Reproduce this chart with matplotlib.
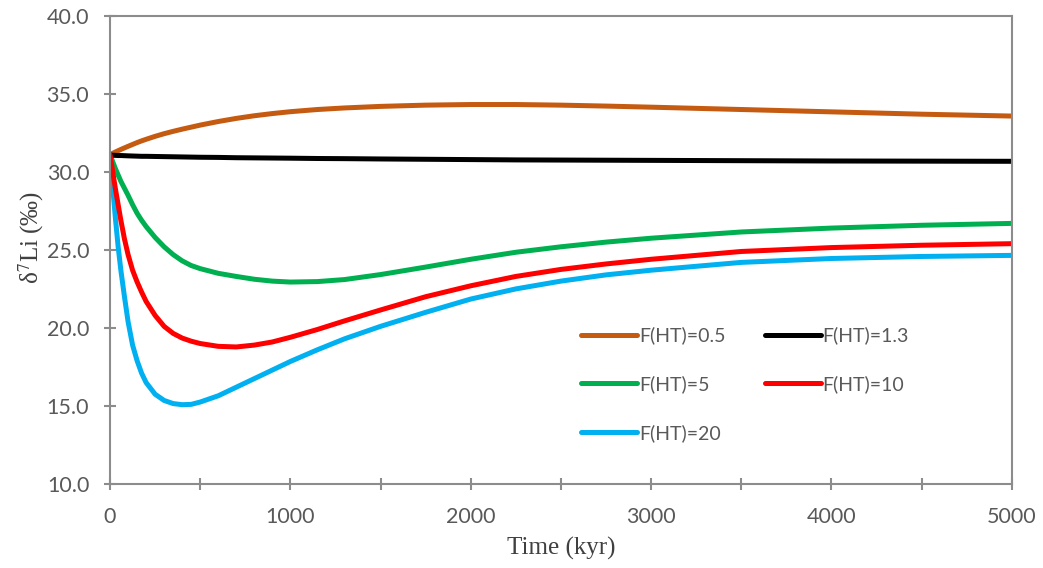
import matplotlib
matplotlib.use('Agg')
import matplotlib.pyplot as plt
from matplotlib.ticker import MultipleLocator, FormatStrFormatter

# tempo (kyr) e d7Li (permil) para cada fluxo hidrotermal F(HT)
tempo = [0, 15, 30, 45, 60, 80, 100, 125, 150, 175, 200, 250, 300, 350, 400, 450, 500,
         600, 700, 800, 900, 1000, 1150, 1300, 1500, 1750, 2000, 2250, 2500, 2750, 3000,
         3500, 4000, 4500, 5000]
f_05 = [31.1, 31.19, 31.28, 31.36, 31.44, 31.54, 31.64, 31.76, 31.88, 31.99, 32.09, 32.28,
        32.45, 32.6, 32.74, 32.87, 33.0, 33.23, 33.43, 33.6, 33.74, 33.86, 34.0, 34.1,
        34.2, 34.28, 34.32, 34.32, 34.28, 34.22, 34.15, 34.0, 33.85, 33.7, 33.58]
f_13 = [31.08, 31.07, 31.06, 31.05, 31.05, 31.04, 31.03, 31.02, 31.01, 31.0, 31.0, 30.99,
        30.98, 30.97, 30.96, 30.95, 30.94, 30.93, 30.91, 30.9, 30.89, 30.88, 30.86, 30.85,
        30.83, 30.81, 30.79, 30.77, 30.76, 30.75, 30.74, 30.72, 30.7, 30.69, 30.68]
f_5 = [31.1, 30.65, 30.2, 29.8, 29.4, 28.95, 28.5, 27.9, 27.35, 26.9, 26.5, 25.8,
       25.2, 24.7, 24.3, 24.0, 23.8, 23.5, 23.3, 23.12, 23.0, 22.94, 22.97, 23.1,
       23.42, 23.9, 24.4, 24.85, 25.2, 25.5, 25.75, 26.15, 26.4, 26.58, 26.7]
f_10 = [31.1, 30.0, 28.9, 27.9, 26.9, 25.7, 24.7, 23.7, 22.95, 22.3, 21.7, 20.8,
        20.1, 19.65, 19.35, 19.15, 19.0, 18.82, 18.78, 18.9, 19.1, 19.4, 19.9, 20.45,
        21.15, 22.0, 22.7, 23.3, 23.75, 24.1, 24.4, 24.9, 25.15, 25.3, 25.4]
f_20 = [31.1, 29.0, 27.0, 25.2, 23.7, 22.0, 20.4, 18.9, 17.9, 17.1, 16.5, 15.75,
        15.35, 15.15, 15.08, 15.1, 15.25, 15.65, 16.2, 16.75, 17.3, 17.85, 18.6, 19.3,
        20.1, 21.0, 21.85, 22.5, 23.0, 23.4, 23.7, 24.2, 24.45, 24.58, 24.65]

# ordem pensada para a legenda em 2 colunas (preenche por coluna)
series = [(f_05, '#c55a11', 'F(HT)=0.5'),
          (f_5, '#00b050', 'F(HT)=5'),
          (f_20, '#00b0f0', 'F(HT)=20'),
          (f_13, '#000000', 'F(HT)=1.3'),
          (f_10, '#ff0000', 'F(HT)=10')]

plt.rcParams['mathtext.fontset'] = 'stix'

fig = plt.figure(figsize=(10.43, 5.68), dpi=100)
ax = fig.add_axes([0.1055, 0.148, 0.8645, 0.824])

for y, cor, nome in series:
    ax.plot(tempo, y, color=cor, lw=3.6, label=nome, solid_capstyle='round',
            solid_joinstyle='round')

ax.set_xlim(0, 5000)
ax.set_ylim(10, 40)
ax.xaxis.set_major_locator(MultipleLocator(1000))
ax.xaxis.set_minor_locator(MultipleLocator(500))
ax.yaxis.set_major_locator(MultipleLocator(5))
ax.yaxis.set_major_formatter(FormatStrFormatter('%.1f'))

cinza = '#8c8c8c'
for s in ax.spines.values():
    s.set_color(cinza)
    s.set_linewidth(1.5)
ax.tick_params(which='both', direction='inout', length=9, width=1.5, color=cinza,
               labelcolor='#595959', labelsize=15.5)
ax.tick_params(axis='x', pad=12)
ax.tick_params(axis='y', pad=10.5)
for lbl in ax.get_xticklabels() + ax.get_yticklabels():
    lbl.set_family('Lato')

ax.set_xlabel('Time (kyr)', family='Liberation Serif', fontsize=18, color='#404040', labelpad=7)
ax.set_ylabel(r'δ$^7$Li (‰)', family='Liberation Serif', fontsize=18, color='#404040')
ax.yaxis.set_label_coords(-0.071, 0.526)

ax.legend(ncol=2, frameon=False, loc='upper left', bbox_to_anchor=(0.512, 0.357),
          prop={'family': 'Lato', 'size': 14}, labelcolor='#595959',
          handlelength=2.85, handletextpad=0.1, columnspacing=2.05, labelspacing=1.58,
          borderpad=0)

fig.savefig('out.png', dpi=100)
